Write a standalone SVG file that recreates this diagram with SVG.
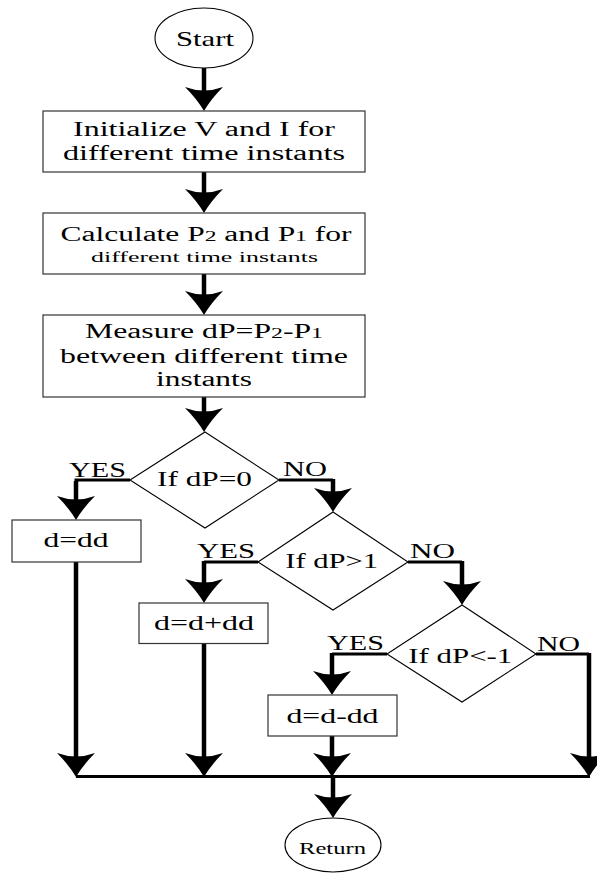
<svg xmlns="http://www.w3.org/2000/svg" xmlns:xlink="http://www.w3.org/1999/xlink" width="597" height="874" viewBox="0 0 597 874">
<style>
text{font-family:"Liberation Serif","Times New Roman",serif;fill:#000;text-anchor:middle}
.t{font-size:20px}
.d{font-size:21px}
.s{font-size:15px}
.l{font-size:21px;text-anchor:start}
.box{fill:#fff;stroke:#333;stroke-width:1.2}
.dia{fill:#fff;stroke:#000;stroke-width:1.1}
.sh{fill:none;stroke:#000;stroke-width:4.5}
.br{fill:none;stroke:#000;stroke-width:3}
</style>
<defs>
<path id="ah" d="M0,0 Q-7,-12 -19,-24 Q0,-17 19,-24 Q7,-12 0,0 Z" fill="#000"/>
</defs>
<rect width="597" height="874" fill="#fff"/>
<g id="connectors">
<line class="sh" x1="204" y1="68" x2="204" y2="95"/>
<use xlink:href="#ah" x="204" y="111"/>
<line class="sh" x1="204" y1="172" x2="204" y2="198"/>
<use xlink:href="#ah" x="204" y="213"/>
<line class="sh" x1="204" y1="274" x2="204" y2="300"/>
<use xlink:href="#ah" x="204" y="315"/>
<line class="sh" x1="204" y1="397" x2="204" y2="418"/>
<use xlink:href="#ah" x="204" y="432"/>
<polyline class="br" points="130,480 76,480 76,500"/>
<line class="sh" x1="76" y1="481" x2="76" y2="505"/>
<use xlink:href="#ah" x="76" y="520"/>
<polyline class="br" points="279,480 333,480"/>
<line class="sh" x1="333" y1="479" x2="333" y2="498"/>
<use xlink:href="#ah" x="333" y="512"/>
<polyline class="br" points="258,562 204,562"/>
<line class="sh" x1="204" y1="561" x2="204" y2="588"/>
<use xlink:href="#ah" x="204" y="603"/>
<polyline class="br" points="408,562 462,562"/>
<line class="sh" x1="462" y1="561" x2="462" y2="590"/>
<use xlink:href="#ah" x="462" y="605"/>
<polyline class="br" points="387,654 332,654"/>
<line class="sh" x1="332" y1="653" x2="332" y2="680"/>
<use xlink:href="#ah" x="332" y="695"/>
<polyline class="br" points="536,654 589,654"/>
<line class="sh" x1="589" y1="653" x2="589" y2="762"/>
<use xlink:href="#ah" x="589" y="777"/>
<line class="sh" x1="76" y1="562" x2="76" y2="762"/>
<use xlink:href="#ah" x="76" y="777"/>
<line class="sh" x1="204" y1="643" x2="204" y2="762"/>
<use xlink:href="#ah" x="204" y="777"/>
<line class="sh" x1="332" y1="736" x2="332" y2="762"/>
<use xlink:href="#ah" x="332" y="777"/>
<line class="br" x1="76" y1="776.5" x2="590" y2="776.5"/>
<line class="sh" x1="333" y1="776" x2="333" y2="803"/>
<use xlink:href="#ah" x="333" y="818"/>
<text class="l" x="69" y="477" textLength="57" lengthAdjust="spacingAndGlyphs">YES</text>
<text class="l" x="283" y="476" textLength="44" lengthAdjust="spacingAndGlyphs">NO</text>
<text class="l" x="197" y="558" textLength="58" lengthAdjust="spacingAndGlyphs">YES</text>
<text class="l" x="410" y="558" textLength="45" lengthAdjust="spacingAndGlyphs">NO</text>
<text class="l" x="327" y="650" textLength="57" lengthAdjust="spacingAndGlyphs">YES</text>
<text class="l" x="537" y="651" textLength="43" lengthAdjust="spacingAndGlyphs">NO</text>
</g>
<g id="start">
<ellipse cx="204" cy="38" rx="49" ry="30" fill="#fff" stroke="#000" stroke-width="1.1"/>
<text x="205" y="46" style="font-size:22px" textLength="58" lengthAdjust="spacingAndGlyphs">Start</text>
</g>
<g id="init">
<rect class="box" x="43" y="111" width="322" height="61"/>
<text class="t" x="204" y="136" textLength="262" lengthAdjust="spacingAndGlyphs">Initialize V and I for</text>
<text class="t" x="204" y="160" textLength="282" lengthAdjust="spacingAndGlyphs">different time instants</text>
</g>
<g id="calc">
<rect class="box" x="43" y="213" width="322" height="61"/>
<text class="t" x="206" y="241" textLength="291" lengthAdjust="spacingAndGlyphs">Calculate P<tspan style="font-size:15px">2</tspan> and P<tspan style="font-size:15px">1</tspan> for</text>
<text class="s" x="204.5" y="262" textLength="227" lengthAdjust="spacingAndGlyphs">different  time instants</text>
</g>
<g id="measure">
<rect class="box" x="43" y="315" width="322" height="82"/>
<text class="t" x="204" y="338" textLength="238" lengthAdjust="spacingAndGlyphs">Measure dP=P<tspan style="font-size:15px">2</tspan>-P<tspan style="font-size:15px">1</tspan></text>
<text class="t" x="204" y="363" textLength="288" lengthAdjust="spacingAndGlyphs">between different time</text>
<text class="t" x="204" y="386" textLength="96" lengthAdjust="spacingAndGlyphs">instants</text>
</g>
<g id="dec1">
<polygon class="dia" points="205,432 279,480 205,528 130,480"/>
<text class="d" x="204.5" y="486" textLength="95" lengthAdjust="spacingAndGlyphs">If dP=0</text>
</g>
<g id="box-dd">
<rect class="box" x="12" y="520" width="129" height="42"/>
<text class="t" x="76" y="547" textLength="65" lengthAdjust="spacingAndGlyphs">d=dd</text>
</g>
<g id="dec2">
<polygon class="dia" points="333,512 408,562 333,610 258,562"/>
<text class="d" x="331.7" y="568" textLength="93" lengthAdjust="spacingAndGlyphs">If dP&gt;1</text>
</g>
<g id="box-dplus">
<rect class="box" x="139" y="603" width="129" height="40.5"/>
<text class="t" x="204" y="629.5" textLength="100" lengthAdjust="spacingAndGlyphs">d=d+dd</text>
</g>
<g id="dec3">
<polygon class="dia" points="462,605 536,654 462,702 387,654"/>
<text class="d" x="460.3" y="663" textLength="104" lengthAdjust="spacingAndGlyphs">If dP&lt;-1</text>
</g>
<g id="box-dminus">
<rect class="box" x="268" y="695" width="129" height="41"/>
<text class="t" x="332.5" y="722.5" textLength="92" lengthAdjust="spacingAndGlyphs">d=d-dd</text>
</g>
<g id="return">
<ellipse cx="333" cy="845" rx="48" ry="27" fill="#fff" stroke="#000" stroke-width="1.1"/>
<text x="332.5" y="854" style="font-size:17px" textLength="67" lengthAdjust="spacingAndGlyphs">Return</text>
</g>
</svg>
